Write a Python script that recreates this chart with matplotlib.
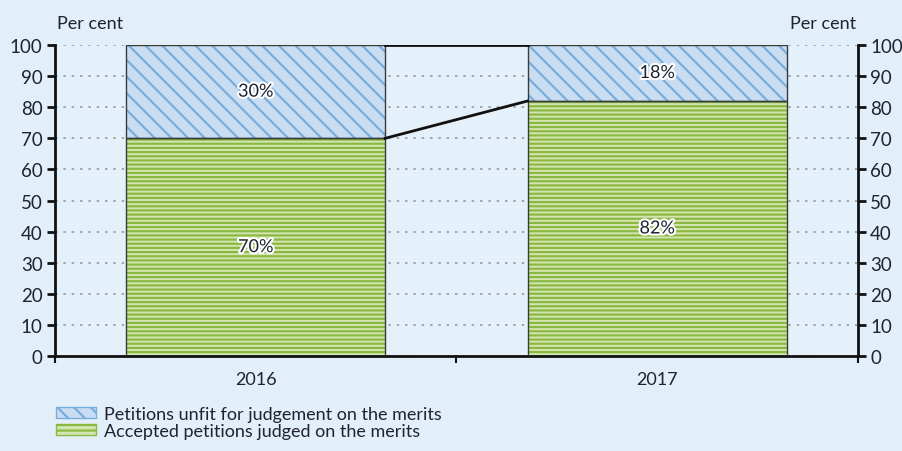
import matplotlib.pyplot as plt
import matplotlib.patheffects as pe
from matplotlib.patches import Patch

years = ["2016", "2017"]
accepted = [70, 82]
unfit = [30, 18]
series_names = ["Petitions unfit for judgement on the merits",
                "Accepted petitions judged on the merits"]

bg = "#e2eff8"
txt = "#1f2230"
plt.rcParams["font.family"] = ["Lato", "DejaVu Sans"]
plt.rcParams["hatch.linewidth"] = 1.6

fig = plt.figure(figsize=(9.03, 4.52), dpi=100, facecolor=bg)
ax = fig.add_axes([0.0609, 0.2102, 0.889, 0.688])
ax.set_facecolor("#e5f1fa")

x = range(len(years))
w = 0.645

# fills with hatch (edgecolor sets hatch colour), then outlines
ax.bar(x, accepted, w, color="#d4e5b4", edgecolor="#8bb940", hatch="----", lw=0, zorder=2)
ax.bar(x, unfit, w, bottom=accepted, color="#c9ddf2", edgecolor="#78aedd", hatch="\\\\", lw=0, zorder=2)
ax.bar(x, accepted, w, fill=False, edgecolor="#3a3a3a", lw=1, zorder=3)
ax.bar(x, unfit, w, bottom=accepted, fill=False, edgecolor="#3a3a3a", lw=1, zorder=3)

# connector lines between bars
ax.plot([0 + w / 2, 1 - w / 2], [100, 100], color="#111111", lw=2, zorder=4)
ax.plot([0 + w / 2, 1 - w / 2], [accepted[0], accepted[1]], color="#111111", lw=2, zorder=4)

stroke = [pe.withStroke(linewidth=3, foreground="white")]
for i in x:
    ax.text(i, accepted[i] / 2, f"{accepted[i]}%", ha="center", va="center",
            fontsize=13, color=txt, path_effects=stroke, zorder=5)
    ax.text(i, accepted[i] + unfit[i] / 2, f"{unfit[i]}%", ha="center", va="center",
            fontsize=13, color=txt, path_effects=stroke, zorder=5)

ax.set_xlim(-0.5, 1.5)
ax.set_ylim(0, 100)
ax.set_yticks(range(0, 101, 10))
ax.yaxis.grid(True, linestyle=(0, (1.5, 3.5)), color="#9a9a9a", lw=1.2, zorder=0)
ax.set_axisbelow(True)

ax.set_xticks([-0.5, 0.5, 1.5])
ax.set_xticklabels([])
ax.set_xticks(list(x), minor=True)
ax.set_xticklabels(years, minor=True)
ax.tick_params(axis="x", which="major", length=5, width=1.5, direction="out", color="#111111")
ax.tick_params(axis="x", which="minor", length=0, pad=11, labelsize=13, labelcolor=txt)
ax.tick_params(axis="y", length=6, width=2, color="#111111", labelsize=13.5, labelcolor=txt, pad=3)

for s in ["top", "right"]:
    ax.spines[s].set_visible(False)
ax.spines["left"].set_linewidth(2)
ax.spines["left"].set_color("#111111")
ax.spines["bottom"].set_linewidth(2)
ax.spines["bottom"].set_color("#111111")

ax2 = ax.twinx()
ax2.set_ylim(0, 100)
ax2.set_yticks(range(0, 101, 10))
ax2.tick_params(axis="y", length=6, width=2, color="#111111", labelsize=13.5, labelcolor=txt, pad=3)
for s in ["top", "left", "bottom"]:
    ax2.spines[s].set_visible(False)
ax2.spines["right"].set_linewidth(2)
ax2.spines["right"].set_color("#111111")

fig.text(0.1, 0.948, "Per cent", fontsize=13, color=txt, va="center", ha="center")
fig.text(0.911, 0.948, "Per cent", fontsize=13, color=txt, va="center", ha="center")

handles = [Patch(facecolor="#c9ddf2", edgecolor="#78aedd", hatch="\\\\"),
           Patch(facecolor="#d4e5b4", edgecolor="#8bb940", hatch="---")]
leg = fig.legend(handles, series_names, loc="upper left", bbox_to_anchor=(0.052, 0.12),
                 frameon=False, fontsize=13, handlelength=2.2, handleheight=0.55,
                 labelspacing=0.05, handletextpad=0.45, borderpad=0)
for t in leg.get_texts():
    t.set_color(txt)

fig.savefig("out.png", dpi=100, facecolor=bg)
